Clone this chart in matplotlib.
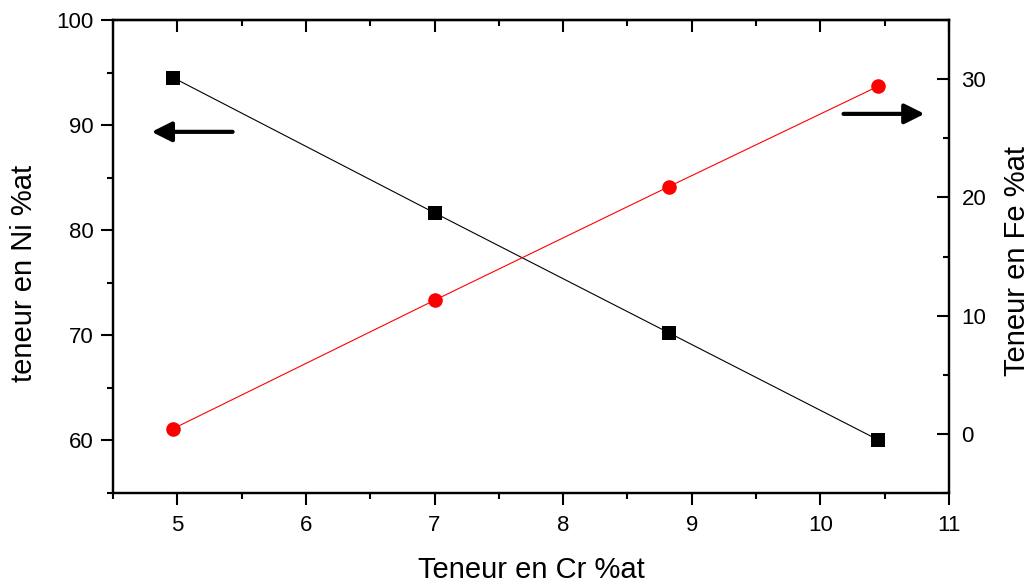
import matplotlib
matplotlib.use("Agg")
import matplotlib.pyplot as plt
from matplotlib.ticker import MultipleLocator

plt.rcParams['font.family'] = ['Liberation Sans', 'DejaVu Sans']

# Data
cr = [4.97, 7.00, 8.82, 10.45]
ni = [94.5, 81.65, 70.25, 60.05]
fe = [0.45, 11.3, 20.9, 29.4]

x_label = "Teneur en Cr %at"
y_left_label = "teneur en Ni %at"
y_right_label = "Teneur en Fe %at"

fig = plt.figure(figsize=(10.34, 5.85), dpi=100)
L, R, T, B = 113/1034, 949/1034, 1 - 20/585, 1 - 493/585
ax = fig.add_axes([L, B, R - L, T - B])
ax2 = ax.twinx()

ax.plot(cr, ni, color='black', lw=0.8, marker='s', markersize=9.5,
        markeredgewidth=0, zorder=3)
ax2.plot(cr, fe, color='red', lw=0.8, marker='o', markersize=10.5,
         markeredgewidth=0, zorder=3)

ax.set_xlim(4.5, 11)
ax.set_ylim(55, 100)
ax2.set_ylim(-5, 35)

ax.xaxis.set_major_locator(MultipleLocator(1))
ax.xaxis.set_minor_locator(MultipleLocator(0.5))
ax.yaxis.set_major_locator(MultipleLocator(10))
ax.yaxis.set_minor_locator(MultipleLocator(5))
ax2.yaxis.set_major_locator(MultipleLocator(10))
ax2.yaxis.set_minor_locator(MultipleLocator(5))

for a in (ax, ax2):
    for s in a.spines.values():
        s.set_linewidth(1.6)

ax.tick_params(axis='x', which='major', direction='out', length=8.6, width=1.5,
               labelsize=16, pad=7, top=False)
ax.tick_params(axis='x', which='minor', direction='out', length=4.3, width=1.5, top=False)
ax.tick_params(axis='y', which='major', direction='out', length=8.6, width=1.5,
               labelsize=16, pad=5.5)
ax.tick_params(axis='y', which='minor', direction='out', length=4.3, width=1.5)
ax2.tick_params(axis='y', which='major', direction='in', length=8.6, width=1.5,
                labelsize=16, pad=9)
ax2.tick_params(axis='y', which='minor', direction='in', length=4.3, width=1.5)

sec = ax.secondary_xaxis('top')
sec.xaxis.set_major_locator(MultipleLocator(1))
sec.xaxis.set_minor_locator(MultipleLocator(0.5))
sec.tick_params(axis='x', which='major', direction='in', length=8.6, width=1.5, labeltop=False)
sec.tick_params(axis='x', which='minor', direction='in', length=4.3, width=1.5)
sec.spines['top'].set_linewidth(1.6)

ax.set_xlabel(x_label, fontsize=21)
ax.xaxis.set_label_coords(0.5, -0.133)
ax.set_ylabel(y_left_label, fontsize=21)
ax.yaxis.set_label_coords(-0.090, 0.465)
ax2.set_ylabel(y_right_label, fontsize=21)
ax2.yaxis.set_label_coords(1.064, 0.49)

# Arrows indicating the axis of each series
ax.annotate('', xy=(4.80, 89.36), xytext=(5.43, 89.36),
            arrowprops=dict(arrowstyle='-|>', lw=3, color='black',
                            mutation_scale=30, shrinkA=0, shrinkB=0))
ax.annotate('', xy=(10.81, 91.07), xytext=(10.18, 91.07),
            arrowprops=dict(arrowstyle='-|>', lw=3, color='black',
                            mutation_scale=30, shrinkA=0, shrinkB=0))

fig.savefig('out.png', dpi=100)
